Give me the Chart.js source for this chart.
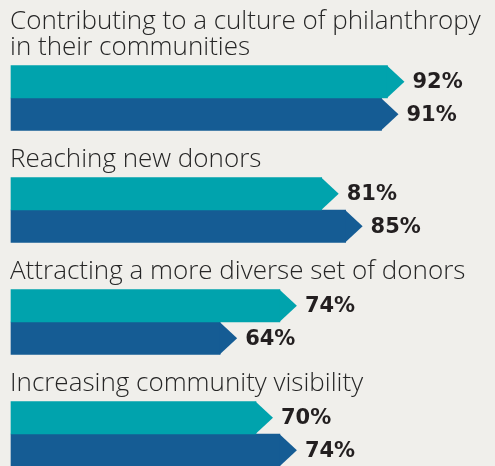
<!DOCTYPE html>
<html>
<head>
<meta charset="utf-8">
<script src="https://cdn.jsdelivr.net/npm/chart.js@4.4.1/dist/chart.umd.min.js"></script>
<style>
  html, body { margin: 0; padding: 0; background: #f0efeb; }
  #wrap { width: 495px; height: 466px; position: relative; }
</style>
</head>
<body>
<div id="wrap"><canvas id="chart"></canvas></div>
<script>
const categories = [
  ['Contributing to a culture of philanthropy', 'in their communities'],
  'Reaching new donors',
  'Attracting a more diverse set of donors',
  'Increasing community visibility',
];
const tealValues = [92, 81, 74, 70];
const blueValues = [91, 85, 64, 74];

const TEAL = '#00a3ad';
const BLUE = '#155c94';
const TIP = 17;
const X_MIN = 29;

// arrow tips, value labels and category headings
const arrowBars = {
  id: 'arrowBars',
  afterDatasetsDraw(chart) {
    const ctx = chart.ctx;
    ctx.save();
    chart.data.datasets.forEach((ds, di) => {
      chart.getDatasetMeta(di).data.forEach((bar, i) => {
        const top = bar.y - bar.height / 2;
        const bottom = bar.y + bar.height / 2;
        ctx.fillStyle = ds.backgroundColor;
        ctx.beginPath();
        ctx.moveTo(bar.x - 0.5, top);
        ctx.lineTo(bar.x + TIP, bar.y);
        ctx.lineTo(bar.x - 0.5, bottom);
        ctx.closePath();
        ctx.fill();

        ctx.fillStyle = '#231f20';
        ctx.font = 'bold 21px "DejaVu Sans"';
        ctx.textAlign = 'left';
        ctx.textBaseline = 'middle';
        ctx.fillText(ds.data[i] + '%', bar.x + TIP + 8, bar.y + 1);
      });
    });

    const first = chart.getDatasetMeta(0).data;
    ctx.fillStyle = '#262626';
    ctx.font = '300 26px "Open Sans"';
    ctx.textBaseline = 'alphabetic';
    chart.data.labels.forEach((label, i) => {
      const lines = Array.isArray(label) ? label : [label];
      const barTop = first[i].y - first[i].height / 2;
      lines.forEach((line, j) => {
        const y = barTop - 11 - (lines.length - 1 - j) * 26;
        ctx.fillText(line, 10, y);
      });
    });
    ctx.restore();
  },
};

new Chart(document.getElementById('chart'), {
  type: 'bar',
  data: {
    labels: categories,
    datasets: [
      { label: 'Teal', data: tealValues, backgroundColor: TEAL, barThickness: 32.5, base: X_MIN, clip: false },
      { label: 'Blue', data: blueValues, backgroundColor: BLUE, barThickness: 32.5, base: X_MIN, clip: false },
    ],
  },
  options: {
    indexAxis: 'y',
    responsive: true,
    maintainAspectRatio: false,
    animation: false,
    layout: { padding: { left: 11, top: 98, bottom: 32, right: 0 } },
    scales: {
      x: { display: false, min: X_MIN, max: 110 },
      y: { display: false, offset: false },
    },
    plugins: {
      legend: { display: false },
      tooltip: { enabled: false },
    },
  },
  plugins: [arrowBars],
});
</script>
</body>
</html>
